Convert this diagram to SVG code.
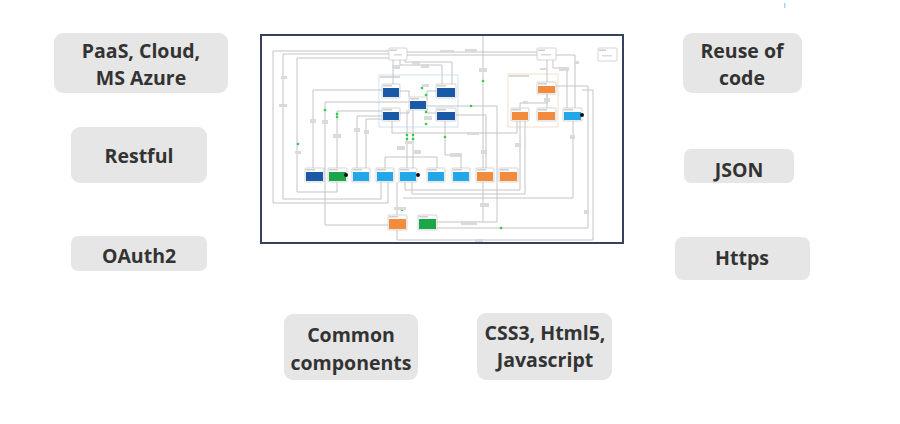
<svg xmlns="http://www.w3.org/2000/svg" width="900" height="424" viewBox="0 0 900 424">
  <style>
    .pill { fill: #e6e6e6; }
    .lbl { font-family: "Open Sans", "Segoe UI", "Liberation Sans", sans-serif; font-weight: 700; font-size: 19.5px; fill: #333333; text-anchor: middle; }
    .wire { fill: none; stroke: #c4c4c4; stroke-width: 1; }
    .box { fill: #ffffff; stroke: #b8b8b8; stroke-width: 0.6; }
    .hdr { fill: #cfcfcf; }
    .dkb { fill: #1a58a8; }
    .ltb { fill: #22a7e8; }
    .org { fill: #f28b3d; }
    .grn { fill: #1ba64a; }
    .dot { fill: #2ecc47; }
    .tag { fill: #dadada; }
    .grp { fill: #ffffff; stroke-width: 0.7; }
  </style>

  <rect width="900" height="424" fill="#ffffff"/>
  <rect x="784" y="3" width="1.5" height="5" fill="#a9d3f7"/>

  <!-- keyword tiles -->
  <g id="paas">
    <rect class="pill" x="54" y="33" width="174" height="60" rx="9"/>
    <text class="lbl" x="141" y="58">PaaS, Cloud,</text>
    <text class="lbl" x="141" y="85">MS Azure</text>
  </g>
  <g id="restful">
    <rect class="pill" x="71" y="127" width="136" height="56" rx="9"/>
    <text class="lbl" x="139" y="163">Restful</text>
  </g>
  <g id="oauth2">
    <rect class="pill" x="71" y="236" width="136" height="35" rx="7"/>
    <text class="lbl" x="139" y="263">OAuth2</text>
  </g>
  <g id="reuse">
    <rect class="pill" x="683" y="33" width="119" height="60" rx="9"/>
    <text class="lbl" x="742" y="58">Reuse of</text>
    <text class="lbl" x="742" y="85">code</text>
  </g>
  <g id="json">
    <rect class="pill" x="684" y="149" width="110" height="34" rx="7"/>
    <text class="lbl" x="739" y="177">JSON</text>
  </g>
  <g id="https">
    <rect class="pill" x="675" y="237" width="135" height="43" rx="8"/>
    <text class="lbl" x="742" y="265">Https</text>
  </g>
  <g id="common">
    <rect class="pill" x="284" y="314" width="134" height="66" rx="9"/>
    <text class="lbl" x="351" y="342">Common</text>
    <text class="lbl" x="351" y="370">components</text>
  </g>
  <g id="web">
    <rect class="pill" x="477" y="313" width="135" height="67" rx="9"/>
    <text class="lbl" x="545" y="340">CSS3, Html5,</text>
    <text class="lbl" x="545" y="367">Javascript</text>
  </g>

  <!-- architecture picture -->
  <g id="architecture">
    <rect x="261" y="35" width="362" height="208" fill="#ffffff" stroke="#34425c" stroke-width="2"/>

    <!-- group frames -->
    <rect class="grp" x="379" y="75" width="79" height="52" stroke="#bcd6ee"/>
    <rect class="grp" x="508" y="74" width="50" height="53" stroke="#f4d2b4"/>
    <rect x="380" y="76" width="20" height="2" fill="#d8d8d8"/>
    <rect x="509" y="75" width="20" height="2" fill="#d8d8d8"/>

    <g id="connectors">
      <!-- outer left loops -->
      <path class="wire" d="M389 51 H273 V203 H388 V182"/>
      <path class="wire" d="M389 54 H283 V199 H381 V182"/>
      <path class="wire" d="M389 58 H297 V192 H337 V182"/>
      <!-- portal to sage office -->
      <path class="wire" d="M407 52 H537"/>
      <path class="wire" d="M407 55 H537"/>
      <!-- portal down into group -->
      <path class="wire" d="M393 60 V84"/>
      <path class="wire" d="M400 60 V65 H442 V84"/>
      <path class="wire" d="M405 60 V62 H452 V84"/>
      <!-- long vertical -->
      <path class="wire" d="M483 36 V222"/>
      <!-- sage office outputs -->
      <path class="wire" d="M547 60 V82"/>
      <path class="wire" d="M553 60 V68 H567 V108"/>
      <path class="wire" d="M556 55 H575 V108"/>
      <path class="wire" d="M547 94 V103 H520 V108"/>
      <path class="wire" d="M547 94 V108"/>
      <!-- right side returns -->
      <path class="wire" d="M556 86 H588 V228 H437"/>
      <path class="wire" d="M582 90 H593 V240 H397 V230"/>
      <!-- group left fan-out -->
      <path class="wire" d="M382 90 H313 V168"/>
      <path class="wire" d="M409 102 H325 V225 H388"/>
      <path class="wire" d="M382 111 H337 V168"/>
      <path class="wire" d="M382 116 H357 V168"/>
      <path class="wire" d="M382 119 H366 V168"/>
      <!-- group internals -->
      <path class="wire" d="M400 91 H409 V97"/>
      <path class="wire" d="M436 91 H427 V100"/>
      <path class="wire" d="M400 113 H409 V110"/>
      <path class="wire" d="M436 113 H427 V108"/>
      <path class="wire" d="M392 121 V133 H517 V121"/>
      <!-- center to bottom row -->
      <path class="wire" d="M407 110 V168"/>
      <path class="wire" d="M413 110 V168"/>
      <path class="wire" d="M410 157 H385 V168"/>
      <path class="wire" d="M410 157 H437 V168"/>
      <path class="wire" d="M445 121 V155 H461 V168"/>
      <path class="wire" d="M456 115 H486 V168"/>
      <path class="wire" d="M427 106 H497 V222 H437"/>
      <!-- lower bus -->
      <path class="wire" d="M520 121 V190 H405 V182"/>
      <path class="wire" d="M525 121 V194 H412 V182"/>
      <path class="wire" d="M573 121 V198 H403"/>
      <path class="wire" d="M397 182 V215"/>
    </g>

    <!-- green markers -->
    <g id="markers">
      <circle class="dot" cx="483" cy="81" r="1.3"/>
      <circle class="dot" cx="471" cy="106" r="1.3"/>
      <circle class="dot" cx="325" cy="110" r="1.3"/>
      <circle class="dot" cx="337" cy="114" r="1.3"/>
      <circle class="dot" cx="337" cy="117" r="1.3"/>
      <circle class="dot" cx="298" cy="144" r="1.3"/>
      <circle class="dot" cx="407" cy="135" r="1.3"/>
      <circle class="dot" cx="413" cy="135" r="1.3"/>
      <circle class="dot" cx="407" cy="139" r="1.3"/>
      <circle class="dot" cx="413" cy="139" r="1.3"/>
      <circle class="dot" cx="445" cy="137" r="1.3"/>
      <circle class="dot" cx="402" cy="210" r="1.3"/>
      <circle class="dot" cx="501" cy="228" r="1.3"/>
      <circle class="dot" cx="422" cy="88" r="1.3"/>
      <circle class="dot" cx="426" cy="95" r="1.3"/>
      <circle class="dot" cx="426" cy="112" r="1.3"/>
      <circle class="dot" cx="426" cy="124" r="1.3"/>
    </g>

    <!-- connector label marks -->
    <g id="tags">
      <rect class="tag" x="392" y="65" width="8" height="4"/>
      <rect class="tag" x="412" y="61" width="8" height="4"/>
      <rect class="tag" x="421" y="64" width="8" height="4"/>
      <rect class="tag" x="440" y="50" width="14" height="3"/>
      <rect class="tag" x="465" y="49" width="12" height="3"/>
      <rect class="tag" x="479" y="68" width="8" height="4"/>
      <rect class="tag" x="540" y="68" width="7" height="2"/>
      <rect class="tag" x="559" y="67" width="10" height="4"/>
      <rect class="tag" x="574" y="61" width="5" height="3"/>
      <rect class="tag" x="544" y="98" width="6" height="4"/>
      <rect class="tag" x="523" y="101" width="5" height="3"/>
      <rect class="tag" x="279" y="104" width="8" height="3"/>
      <rect class="tag" x="281" y="76" width="6" height="3"/>
      <rect class="tag" x="310" y="119" width="6" height="4"/>
      <rect class="tag" x="322" y="120" width="6" height="4"/>
      <rect class="tag" x="333" y="134" width="8" height="4"/>
      <rect class="tag" x="354" y="128" width="6" height="4"/>
      <rect class="tag" x="364" y="130" width="5" height="4"/>
      <rect class="tag" x="295" y="151" width="6" height="3"/>
      <rect class="tag" x="397" y="146" width="8" height="4"/>
      <rect class="tag" x="405" y="141" width="7" height="3"/>
      <rect class="tag" x="414" y="150" width="7" height="4"/>
      <rect class="tag" x="450" y="153" width="12" height="4"/>
      <rect class="tag" x="481" y="150" width="6" height="4"/>
      <rect class="tag" x="467" y="132" width="12" height="3"/>
      <rect class="tag" x="515" y="143" width="6" height="4"/>
      <rect class="tag" x="570" y="135" width="5" height="4"/>
      <rect class="tag" x="480" y="203" width="9" height="4"/>
      <rect class="tag" x="461" y="221" width="16" height="4"/>
      <rect class="tag" x="394" y="207" width="12" height="3"/>
      <rect class="tag" x="475" y="239" width="8" height="3"/>
      <rect class="tag" x="584" y="210" width="5" height="4"/>
      <rect class="tag" x="422" y="84" width="7" height="3"/>
      <rect class="tag" x="424" y="116" width="8" height="4"/>
    </g>

    <!-- top boxes -->
    <g id="portal">
      <rect class="box" x="389" y="48" width="18" height="12" rx="1"/>
      <rect class="hdr" x="390" y="49.5" width="7" height="1.5"/>
      <rect class="tag" x="394" y="54" width="8" height="1.5"/>
    </g>
    <g id="sage-office">
      <rect class="box" x="537" y="48" width="19" height="12" rx="1"/>
      <rect class="hdr" x="538" y="49.5" width="7" height="1.5"/>
      <rect class="tag" x="541" y="54" width="10" height="1.5"/>
    </g>
    <g id="external">
      <rect class="box" x="598" y="48" width="19" height="13" rx="1"/>
      <rect class="hdr" x="599" y="49.5" width="7" height="1.5"/>
      <rect class="tag" x="602" y="55" width="10" height="1.5"/>
    </g>

    <!-- group nodes -->
    <g id="svc-a"><rect class="box" x="382" y="84" width="18" height="14" rx="1"/><rect class="hdr" x="383" y="85" width="9" height="1.5"/><rect class="dkb" x="383" y="88" width="16" height="9"/></g>
    <g id="svc-b"><rect class="box" x="436" y="84" width="20" height="14" rx="1"/><rect class="hdr" x="437" y="85" width="9" height="1.5"/><rect class="dkb" x="437" y="88" width="18" height="9"/></g>
    <g id="svc-core"><rect class="box" x="409" y="97" width="18" height="13" rx="1"/><rect class="hdr" x="410" y="98" width="9" height="1.5"/><rect class="dkb" x="410" y="101" width="16" height="8"/></g>
    <g id="svc-c"><rect class="box" x="382" y="108" width="18" height="13" rx="1"/><rect class="hdr" x="383" y="109" width="9" height="1.5"/><rect class="dkb" x="383" y="112" width="16" height="8"/></g>
    <g id="svc-d"><rect class="box" x="436" y="108" width="20" height="13" rx="1"/><rect class="hdr" x="437" y="109" width="9" height="1.5"/><rect class="dkb" x="437" y="112" width="18" height="8"/></g>

    <!-- orange group nodes -->
    <g id="ord-a"><rect class="box" x="537" y="82" width="19" height="12" rx="1"/><rect class="hdr" x="538" y="83" width="9" height="1.5"/><rect class="org" x="538" y="86" width="17" height="7"/></g>
    <g id="ord-b"><rect class="box" x="511" y="108" width="18" height="13" rx="1"/><rect class="hdr" x="512" y="109" width="9" height="1.5"/><rect class="org" x="512" y="112" width="16" height="8"/></g>
    <g id="ord-c"><rect class="box" x="537" y="108" width="19" height="13" rx="1"/><rect class="hdr" x="538" y="109" width="9" height="1.5"/><rect class="org" x="538" y="112" width="17" height="8"/></g>

    <g id="api-right"><rect class="box" x="563" y="108" width="19" height="13" rx="1"/><rect class="hdr" x="564" y="109" width="9" height="1.5"/><rect class="ltb" x="564" y="112" width="17" height="8"/><circle cx="582" cy="115" r="2" fill="#111111"/></g>

    <!-- bottom row -->
    <g id="row-1"><rect class="box" x="305" y="168" width="19" height="14" rx="1"/><rect class="hdr" x="306" y="169" width="9" height="1.5"/><rect class="dkb" x="306" y="172" width="17" height="9"/></g>
    <g id="row-2"><rect class="box" x="328" y="168" width="19" height="14" rx="1"/><rect class="hdr" x="329" y="169" width="9" height="1.5"/><rect class="grn" x="329" y="172" width="17" height="9"/><circle cx="346" cy="175" r="2" fill="#111111"/></g>
    <g id="row-3"><rect class="box" x="352" y="168" width="18" height="14" rx="1"/><rect class="hdr" x="353" y="169" width="9" height="1.5"/><rect class="ltb" x="353" y="172" width="16" height="9"/></g>
    <g id="row-4"><rect class="box" x="376" y="168" width="18" height="14" rx="1"/><rect class="hdr" x="377" y="169" width="9" height="1.5"/><rect class="ltb" x="377" y="172" width="16" height="9"/></g>
    <g id="row-5"><rect class="box" x="399" y="168" width="18" height="14" rx="1"/><rect class="hdr" x="400" y="169" width="9" height="1.5"/><rect class="ltb" x="400" y="172" width="16" height="9"/><circle cx="418" cy="175" r="2" fill="#111111"/></g>
    <g id="row-6"><rect class="box" x="427" y="168" width="18" height="14" rx="1"/><rect class="hdr" x="428" y="169" width="9" height="1.5"/><rect class="ltb" x="428" y="172" width="16" height="9"/></g>
    <g id="row-7"><rect class="box" x="452" y="168" width="18" height="14" rx="1"/><rect class="hdr" x="453" y="169" width="9" height="1.5"/><rect class="ltb" x="453" y="172" width="16" height="9"/></g>
    <g id="row-8"><rect class="box" x="476" y="168" width="18" height="14" rx="1"/><rect class="hdr" x="477" y="169" width="9" height="1.5"/><rect class="org" x="477" y="172" width="16" height="9"/></g>
    <g id="row-9"><rect class="box" x="499" y="168" width="19" height="14" rx="1"/><rect class="hdr" x="500" y="169" width="9" height="1.5"/><rect class="org" x="500" y="172" width="17" height="9"/></g>

    <!-- lower nodes -->
    <g id="store-a"><rect class="box" x="388" y="215" width="19" height="15" rx="1"/><rect class="hdr" x="389" y="216" width="9" height="1.5"/><rect class="org" x="389" y="219" width="17" height="10"/></g>
    <g id="store-b"><rect class="box" x="418" y="215" width="19" height="15" rx="1"/><rect class="hdr" x="419" y="216" width="9" height="1.5"/><rect class="grn" x="419" y="219" width="17" height="10"/></g>
  </g>
</svg>
